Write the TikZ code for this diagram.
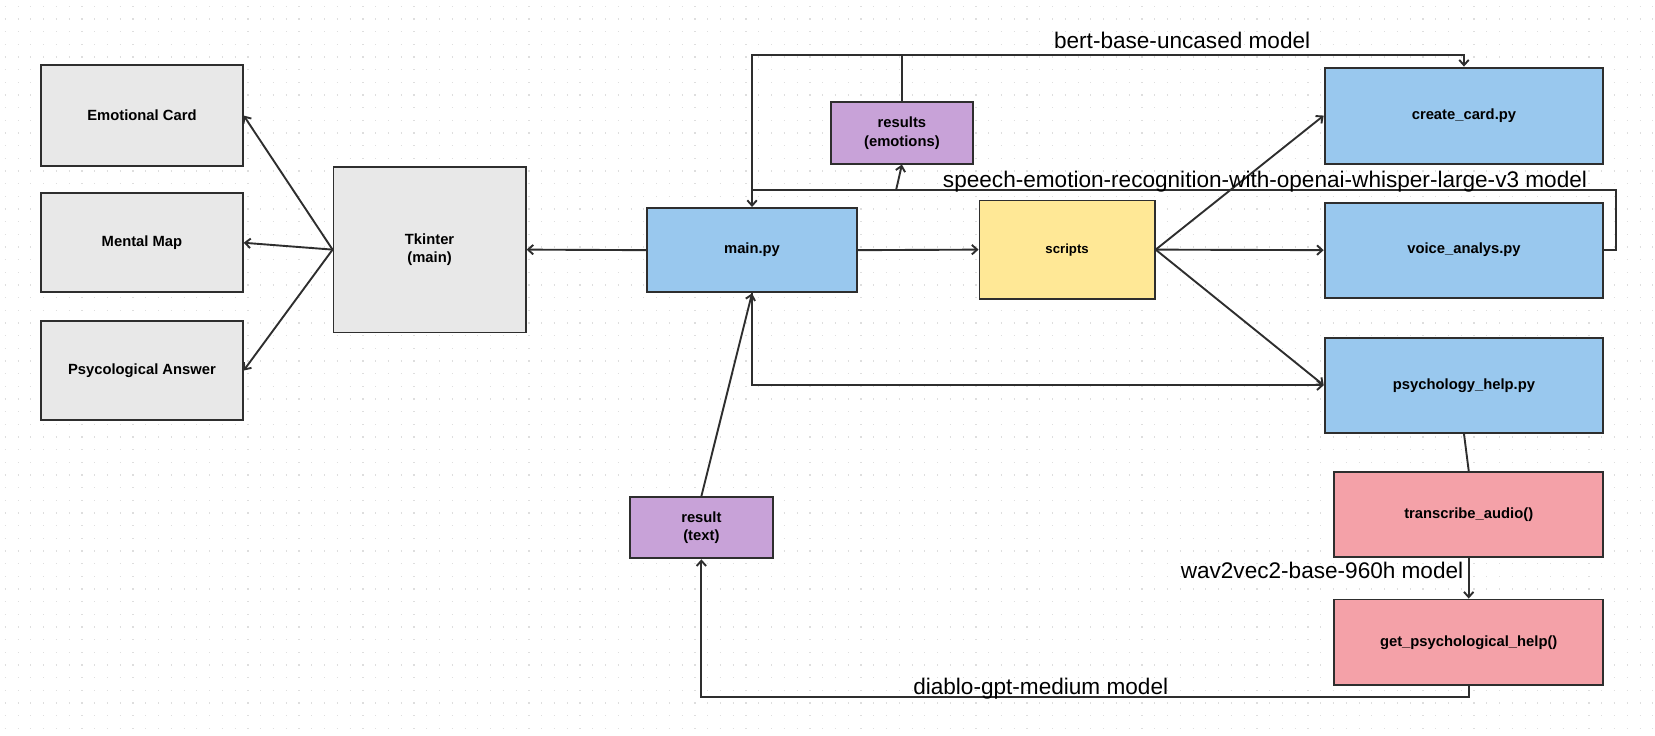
\documentclass[tikz,border=0pt]{standalone}
\usepackage{fontspec}
\setmainfont{Liberation Sans}
\usetikzlibrary{arrows.meta}
\definecolor{boxgray}{HTML}{E8E8E8}
\definecolor{boxblue}{HTML}{99C8EE}
\definecolor{boxpurple}{HTML}{C8A2D8}
\definecolor{boxyellow}{HTML}{FFE896}
\definecolor{boxred}{HTML}{F4A1A8}
\definecolor{linegray}{HTML}{2E2E2E}
\begin{document}
\begin{tikzpicture}[x=1pt, y=-1pt,
		box/.style={draw=linegray, line width=1.8pt, align=center, inner sep=0pt,
			font=\fontsize{14}{17.5}\selectfont\bfseries},
		conn/.style={draw=linegray, line width=1.8pt},
		arr/.style={conn, -{Straight Barb[length=5pt, width=9pt]}},
		modeltext/.style={font=\fontsize{21.4}{24}\selectfont, inner sep=0pt, anchor=base}]
		\useasboundingbox (0,0) rectangle (1568,696.4);
		% Raster
		\foreach \y in {6,18,...,696}
			\draw[black!13, line width=1.1pt, dash pattern=on 1.1pt off 11pt] (4.5,\y) -- (1568,\y);
		% Ausgaben
		\node[box, fill=boxgray, minimum width=191pt, minimum height=95pt] (card) at (134.5,109.5) {Emotional Card};
		\node[box, fill=boxgray, minimum width=191pt, minimum height=94pt] (map) at (134.5,230) {Mental Map};
		\node[box, fill=boxgray, minimum width=191pt, minimum height=94pt] (answer) at (134.5,351) {Psycological Answer};
		\node[box, fill=boxgray, minimum width=182pt, minimum height=157pt] (tk) at (407,236.5) {Tkinter\\(main)};
		% Programm
		\node[box, fill=boxblue, minimum width=199pt, minimum height=80pt] (main) at (712.5,237) {main.py};
		\node[box, fill=boxpurple, minimum width=135pt, minimum height=58pt] (emo) at (854.5,126) {results\\(emotions)};
		\node[box, fill=boxyellow, minimum width=166pt, minimum height=93pt, font=\fontsize{12.5}{15}\selectfont\bfseries] (scripts) at (1011,236.5) {scripts};
		\node[box, fill=boxblue, minimum width=264pt, minimum height=91pt] (create) at (1387,109.5) {create\_card.py};
		\node[box, fill=boxblue, minimum width=264pt, minimum height=90pt] (voice) at (1387,237) {voice\_analys.py};
		\node[box, fill=boxblue, minimum width=264pt, minimum height=90pt] (psych) at (1387,365) {psychology\_help.py};
		\node[box, fill=boxred, minimum width=255pt, minimum height=81pt] (trans) at (1391.5,487.5) {transcribe\_audio()};
		\node[box, fill=boxred, minimum width=255pt, minimum height=81pt] (help) at (1391.5,608.5) {get\_psychological\_help()};
		\node[box, fill=boxpurple, minimum width=135pt, minimum height=58pt] (res) at (664.5,500) {result\\(text)};
		% Hilfspunkte
		\coordinate (top) at (0,52);
		\coordinate (mid) at (0,180);
		\coordinate (bottom) at (0,660);
		\coordinate (emofoot) at (849,180);
		% Verbindungen
		\draw[arr] (tk.west) -- (card.east);
		\draw[arr] (tk.west) -- (map.east);
		\draw[arr] (tk.west) -- (answer.east);
		\draw[arr] (main.west) -- (tk.east);
		\draw[arr] (main.east) -- (scripts.west);
		\draw[arr] (scripts.east) -- (create.west);
		\draw[arr] (scripts.east) -- (voice.west);
		\draw[arr] (scripts.east) -- (psych.west);
		\draw[conn, {Straight Barb[length=5pt, width=9pt]}-{Straight Barb[length=5pt, width=9pt]}]
			(main.north) -- (main.north |- top) -| (create.north);
		\draw[conn] (emo.north) -- (emo.north |- top);
		\draw[conn] (voice.east) -- ++(11,0) |- (main.north |- mid);
		\draw[arr] (emofoot) -- (emo.south);
		\draw[arr] (main.south) |- (psych.west);
		\draw[arr] (res.north) -- (main.south);
		\draw[conn] (psych.south) -- (trans.north);
		\draw[arr] (trans.south) -- (help.north);
		\draw[arr] (help.south) -- (help.south |- bottom) -| (res.south);
		% Modelle
		\node[modeltext] (bertlabel) at (1120,46) {bert-base-uncased model};
		\node[modeltext] (whisperlabel) at (1198.5,178) {speech-emotion-recognition-with-openai-whisper-large-v3 model};
		\node[modeltext] (wavlabel) at (1252.5,548) {wav2vec2-base-960h model};
		\node[modeltext] (gptlabel) at (986,658) {diablo-gpt-medium model};
	\end{tikzpicture}
\end{document}
